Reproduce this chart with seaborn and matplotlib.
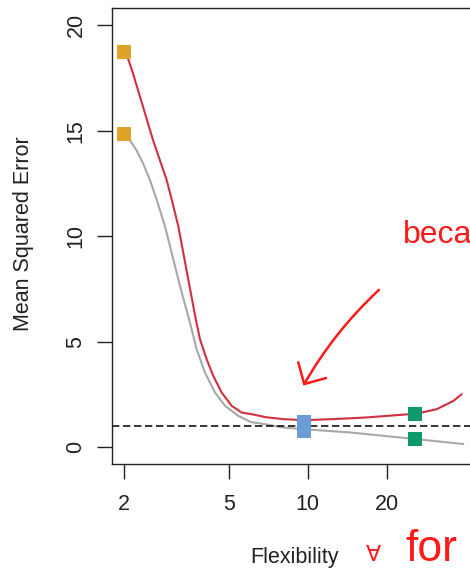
import matplotlib
matplotlib.use("Agg")
import matplotlib.pyplot as plt
import seaborn as sns

# Test MSE (red) and training MSE (grey) against model flexibility
test_flex = [2, 2.066, 2.159, 2.256, 2.357, 2.462, 2.573, 2.90,
             3.034, 3.213, 3.357, 3.507, 3.746, 3.887, 4.121, 4.368,
             4.70, 5.132, 5.603, 6.135, 6.935, 8.07, 9.62, 12.52, 16.78, 22.47,
             26.02, 31.0, 35.88, 38.63]
test_mse = [18.73, 18.42, 17.71, 16.92, 16.14, 15.35, 14.56, 12.67,
            11.73, 10.47, 9.21, 7.95, 6.06, 5.12, 4.17, 3.38,
            2.60, 1.97, 1.65, 1.57, 1.43, 1.34, 1.29, 1.34, 1.42, 1.54,
            1.60, 1.81, 2.20, 2.52]

train_flex = [2, 2.097, 2.223, 2.357, 2.504, 2.658, 2.858, 3.032, 3.213, 3.378,
              3.507, 3.775, 4.060, 4.434, 4.840, 5.439, 6.081, 6.874,
              8.07, 10.82, 14.49, 19.42, 26.02, 39.17]
train_mse = [14.85, 14.56, 14.09, 13.46, 12.67, 11.73, 10.47, 9.21, 7.95, 6.93,
             6.22, 4.64, 3.54, 2.60, 1.97, 1.49, 1.20, 1.10,
             0.94, 0.82, 0.71, 0.55, 0.39, 0.16]

# Highlighted fits: linear (orange), smoothing spline (blue), wiggly spline (green)
linear_flex = [2, 2]
linear_mse = [18.73, 14.85]
spline_flex = [9.7, 9.7]
spline_mse = [1.21, 0.80]
wiggly_flex = [25.6, 25.6]
wiggly_mse = [1.56, 0.42]

irreducible_error = 1.0

x_ticks = [2, 5, 10, 20]
y_ticks = [0, 5, 10, 15, 20]

sns.set_style("ticks")
plt.rcParams["font.family"] = ["Liberation Sans", "DejaVu Sans"]

W, H = 470, 570
fig = plt.figure(figsize=(W / 100, H / 100), dpi=100)
ax = fig.add_axes([112.3 / W, (H - 464.3) / H, 366.8 / W, 456 / H])

sns.lineplot(x=train_flex, y=train_mse, ax=ax, color="#a8a8a8", lw=1.5, sort=False)
sns.lineplot(x=test_flex, y=test_mse, ax=ax, color="#d0303f", lw=1.5, sort=False)
ax.axhline(irreducible_error, color="black", lw=1.1, dashes=(4.8, 2.4), zorder=2.5)

for fx, fy, col in [(linear_flex, linear_mse, "#e0a32a"),
                    (spline_flex, spline_mse, "#6a9cd6"),
                    (wiggly_flex, wiggly_mse, "#0e9a6c")]:
    sns.scatterplot(x=fx, y=fy, ax=ax, marker="s", s=102, color=col,
                    linewidth=0, zorder=3)

ax.set_xscale("log")
ax.set_xlim(1.80, 45)
ax.set_ylim(-0.8, 20.8)
ax.set_xticks(x_ticks)
ax.set_xticklabels([str(t) for t in x_ticks])
ax.minorticks_off()
ax.set_yticks(y_ticks)
ax.set_yticklabels([str(t) for t in y_ticks], rotation=90, va="center")
ax.tick_params(axis="both", length=10.5, width=1.0, color="#222222",
               labelsize=15.5, labelcolor="#222222")
ax.tick_params(axis="x", pad=11)
ax.tick_params(axis="y", pad=8)
for side in ["left", "bottom", "top", "right"]:
    ax.spines[side].set_visible(True)
    ax.spines[side].set_color("#222222")
    ax.spines[side].set_linewidth(1.0)
ax.set_xlabel("")
ax.set_ylabel("")

fig.text(294 / W, (H - 557) / H, "Flexibility", ha="center", va="center",
         fontsize=15.5, color="#222222")
fig.text(24 / W, (H - 234) / H, "Mean Squared Error", ha="center", va="center",
         rotation=90, fontsize=15.5, color="#222222")

# Handwritten notes in red ink
fig.text(403 / W, (H - 243) / H, "because", ha="left", va="baseline",
         fontsize=23, color="#ff1a1a")
fig.text(366 / W, (H - 561) / H, "\u2200", ha="left", va="baseline",
         fontsize=16, color="#ff1a1a", family=["DejaVu Sans"])
fig.text(405 / W, (H - 561) / H, "for", ha="left", va="baseline",
         fontsize=32, color="#ff1a1a")
ax.annotate("", xy=(302, H - 388), xytext=(381, H - 288),
            xycoords="figure pixels", textcoords="figure pixels",
            arrowprops=dict(arrowstyle="->,head_length=1.15,head_width=1.15",
                            connectionstyle="arc3,rad=0.08",
                            color="#ff1a1a", lw=1.8))

fig.savefig("out.png", dpi=100)
